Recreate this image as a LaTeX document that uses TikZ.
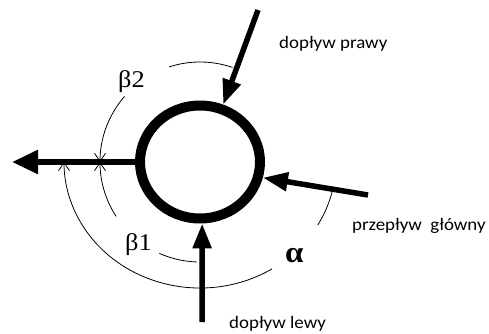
\documentclass[tikz,border=0pt]{standalone}
\usepackage{fontspec}
\setmainfont{Carlito}[FakeStretch=1.08]
\newfontfamily\grk{Liberation Serif}[FakeStretch=1.1]
\usetikzlibrary{arrows.meta,shapes.geometric}
\begin{document}
\begin{tikzpicture}[x=1pt,y=1pt,
  ring/.style={draw,ellipse,line width=10pt,minimum width=120pt,minimum height=113pt,inner sep=0pt},
  flow/.style={line width=5.5pt,-{Triangle[length=25pt,width=18pt]}},
  outflow/.style={line width=5.5pt,-{Triangle[length=26pt,width=23pt]}},
  ang/.style={line width=0.8pt},
  angarr/.style={line width=0.8pt,-{Straight Barb[length=8pt,width=11pt]}},
  lbl/.style={font=\fontsize{17.5}{20}\selectfont,inner sep=0pt},
  glbl/.style={font=\grk\fontsize{24}{28}\selectfont,inner sep=0pt},
  albl/.style={font=\grk\bfseries\fontsize{30}{36}\selectfont,inner sep=0pt}]
\useasboundingbox (0,0) rectangle (489,333);
\node[ring] (c) at (200,171) {};
\coordinate (lt) at (12,171);
\coordinate (bs) at (202,11);
\coordinate (us) at (258,323);
\coordinate (rs) at (368,138);
\draw[outflow] (c.west) -- (lt);
\draw[flow] (bs) -- (c.-88);
\draw[flow] (us) -- (c.68);
\draw[flow] (rs) -- (c.-14);
% beta2 arc
\draw[ang] ([shift={(71:100pt)}]c.center) arc[start angle=71,end angle=108,radius=100pt];
\draw[angarr] ([shift={(139:100pt)}]c.center) arc[start angle=139,end angle=180,radius=100pt];
% beta1 arc
\draw[ang] ([shift={(268:100pt)}]c.center) arc[start angle=268,end angle=246,radius=100pt];
\draw[angarr] ([shift={(213:100pt)}]c.center) arc[start angle=213,end angle=180,radius=100pt];
% alpha arc
\draw[ang] ([shift={(347:136pt and 126pt)}]c.center) arc[start angle=347,end angle=330,x radius=136pt,y radius=126pt];
\draw[angarr] ([shift={(302:136pt and 126pt)}]c.center) arc[start angle=302,end angle=180,x radius=136pt,y radius=126pt];
% labels
\node[lbl,anchor=west] (dp) at (279,289) {dopływ prawy};
\node[lbl,anchor=west] (pg) at (352,107) {przepływ\ \ główny};
\node[lbl,anchor=base west] (dl) at (229,5) {dopływ lewy};
\node[glbl,anchor=base west] (b2) at (118,246) {β2};
\node[glbl,anchor=base west] (b1) at (125,83) {β1};
\node[albl,anchor=base west] (al) at (285,71) {α};
\end{tikzpicture}
\end{document}
